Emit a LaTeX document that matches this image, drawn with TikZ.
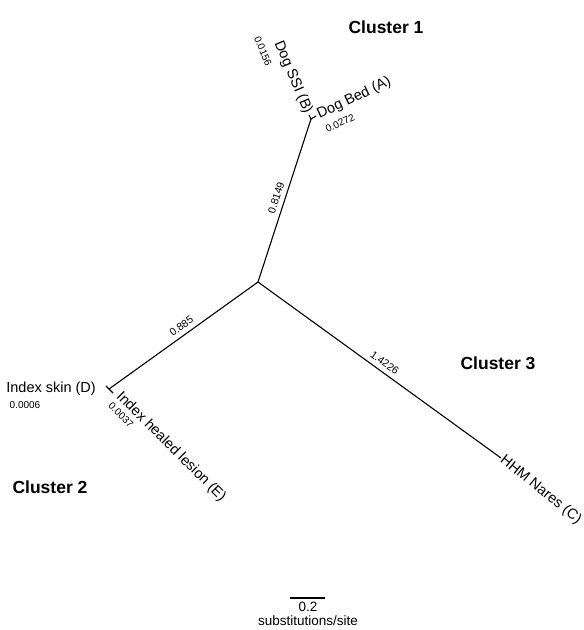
\documentclass[tikz,border=0pt]{standalone}
\usepackage{fontspec}
\setmainfont{Liberation Sans}

\begin{document}
\begin{tikzpicture}[x=1pt,y=-1pt,
  branch/.style={line width=1.1pt,line cap=round},
  leaf/.style={font=\fontsize{14.5}{16}\selectfont,inner sep=2pt},
  leafnum/.style={font=\fontsize{10}{11}\selectfont,inner sep=0pt},
  brlen/.style={font=\fontsize{10.5}{12}\selectfont,inner sep=2pt,sloped,above=2.5pt},
  cluster/.style={font=\fontsize{17.5}{20}\selectfont\bfseries,inner sep=0pt}]
\useasboundingbox (0,0) rectangle (584,630);
% internal nodes and tips
\coordinate (root) at (258,282);
\coordinate (ab) at (311,119);
\coordinate (A) at (316,116);
\coordinate (B) at (309,115);
\coordinate (de) at (109,389);
\coordinate (D) at (106,386);
\coordinate (E) at (113,393);
\coordinate (C) at (501,458);
% branches
\draw[branch] (root) -- node[brlen,pos=.5] (lab) {0.8149} (ab);
\draw[branch] (de) -- node[brlen,pos=.52] (lde) {0.885} (root);
\draw[branch] (root) -- node[brlen,pos=.5] (lc) {1.4226} (C);
\draw[branch] (ab) -- (A);
\draw[branch] (ab) -- (B);
\draw[branch] (de) -- (D);
\draw[branch] (de) -- (E);
% leaf labels
\node[leaf,anchor=west,rotate=25] (labA) at (A) {Dog Bed (A)};
\node[leafnum,rotate=25] (numA) at (340,123) {0.0272};
\node[leaf,anchor=east,rotate=-67] (labB) at (B) {Dog SSI (B)};
\node[leafnum,rotate=-67] (numB) at (263,51) {0.0156};
\node[leaf,anchor=east] (labD) at (98,389) {Index skin (D)};
\node[leafnum] (numD) at (25,405) {0.0006};
\node[leaf,anchor=west,rotate=-45] (labE) at (117,393) {Index healed lesion (E)};
\node[leafnum,rotate=-45] (numE) at (121,415) {0.0037};
\node[leaf,anchor=west,rotate=-39,inner sep=1pt] (labC) at (C) {HHM Nares (C)};
% clusters
\node[cluster] (cl1) at (386,27) {Cluster 1};
\node[cluster] (cl2) at (50,487) {Cluster 2};
\node[cluster] (cl3) at (498,363) {Cluster 3};
% scale bar
\coordinate (s1) at (290,598);
\coordinate (s2) at (325,598);
\draw[line width=1.1pt] (s1) -- (s2);
\node[leaf,inner sep=0pt,font=\fontsize{13.5}{15}\selectfont] (sval) at (308,607) {0.2};
\node[leaf,inner sep=0pt,font=\fontsize{13.5}{15}\selectfont] (sunit) at (308,621) {substitutions/site};
\end{tikzpicture}
\end{document}
